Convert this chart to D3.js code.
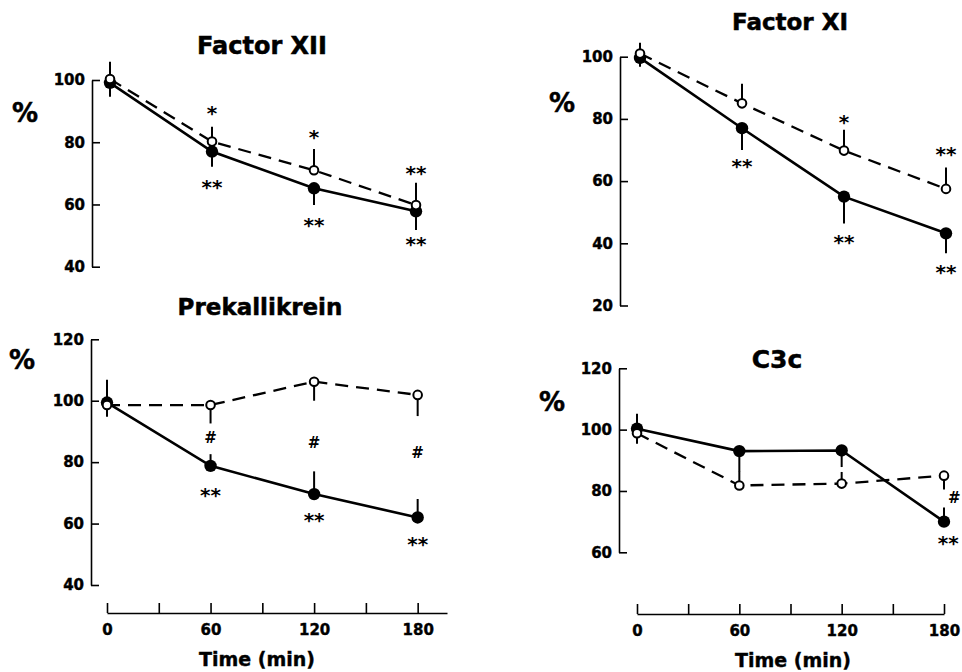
<!DOCTYPE html>
<html><head><meta charset="utf-8">
<script src="https://cdn.jsdelivr.net/npm/d3@7"></script>
<style>
html,body{margin:0;padding:0;background:#fff;}
svg{display:block;}
text{font-family:"DejaVu Sans",sans-serif;font-weight:bold;fill:#000;}
</style></head>
<body>
<svg id="chart" width="962" height="672"></svg>
<script>
// ---------- DATA ----------
const times = [0, 60, 120, 180];
const minorTimes = [0, 30, 60, 90, 120, 150, 180];
const xTickLabels = ["0", "60", "120", "180"];
const titles = ["Factor XII", "Factor XI", "Prekallikrein", "C3c"];
const yLabel = "%";
const xLabel = "Time (min)";

// Factor XII
const f12Filled = [99.1, 77.0, 65.2, 57.8];
const f12FilledSD = [4.5, 4.9, 5.4, 6.0];
const f12FilledDir = [-1, -1, -1, -1];
const f12Open = [100.3, 80.2, 71.0, 59.8];
const f12OpenSD = [5.6, 4.8, 6.8, 7.2];
const f12OpenDir = [1, 1, 1, 1];
const f12Ticks = [40, 60, 80, 100];
const f12Notes = [[60, 91.0, "*"], [60, 67.2, "**"], [120, 83.3, "*"], [120, 55.0, "**"], [180, 71.7, "**"], [180, 48.9, "**"]];

// Factor XI
const f11Filled = [99.6, 77.0, 55.0, 43.2];
const f11FilledSD = [2.8, 7.0, 8.6, 6.4];
const f11FilledDir = [-1, -1, -1, -1];
const f11Open = [101.0, 85.0, 69.8, 57.5];
const f11OpenSD = [3.5, 6.3, 6.7, 6.9];
const f11OpenDir = [1, 1, 1, 1];
const f11Ticks = [20, 40, 60, 80, 100];
const f11Notes = [[60, 66.2, "**"], [120, 80.6, "*"], [120, 42.0, "**"], [180, 70.3, "**"], [180, 32.4, "**"]];

// Prekallikrein
const pkFilled = [99.4, 78.8, 69.6, 62.0];
const pkFilledSD = [7.4, 3.8, 7.4, 6.0];
const pkFilledDir = [1, 1, 1, 1];
const pkOpen = [98.6, 98.6, 106.2, 101.9];
const pkOpenSD = [3.8, 6.0, 6.2, 6.9];
const pkOpenDir = [-1, -1, -1, -1];
const pkTicks = [40, 60, 80, 100, 120];
const pkNotes = [[60, 88.0, "#"], [60, 70.7, "**"], [120, 86.4, "#"], [120, 62.5, "**"], [180, 83.2, "#"], [180, 55.0, "**"]];

// C3c
const c3Filled = [100.3, 93.0, 93.2, 70.0];
const c3FilledSD = [4.9, 6.8, 5.4, 4.6];
const c3FilledDir = [1, -1, -1, 1];
const c3Open = [98.8, 81.8, 82.4, 85.0];
const c3OpenSD = [3.4, 4.5, 3.8, 4.5];
const c3OpenDir = [-1, 1, 1, -1];
const c3Ticks = [60, 80, 100, 120];
const c3Notes = [[186, 78.0, "#"], [182.5, 64.5, "**"]];

// ---------- LAYOUT ----------
const svg = d3.select("#chart");
svg.append("rect").attr("width", 962).attr("height", 672).attr("fill", "#fff");

const panels = [
  {title: titles[0], filled: f12Filled, fSD: f12FilledSD, fDir: f12FilledDir, open: f12Open, oSD: f12OpenSD, oDir: f12OpenDir,
   ticks: f12Ticks, notes: f12Notes, xDom: [0, 180], xRange: [110, 416], yDom: [40, 100], yRange: [266.7, 80], axisX: 92,
   titlePos: [262, 54], titleSize: 24, pct: [25, 113], showX: false},
  {title: titles[1], filled: f11Filled, fSD: f11FilledSD, fDir: f11FilledDir, open: f11Open, oSD: f11OpenSD, oDir: f11OpenDir,
   ticks: f11Ticks, notes: f11Notes, xDom: [0, 180], xRange: [640, 946], yDom: [20, 100], yRange: [305.5, 56.7], axisX: 620,
   titlePos: [790, 30], titleSize: 23, pct: [562, 103], showX: false},
  {title: titles[2], filled: pkFilled, fSD: pkFilledSD, fDir: pkFilledDir, open: pkOpen, oSD: pkOpenSD, oDir: pkOpenDir,
   ticks: pkTicks, notes: pkNotes, xDom: [0, 197], xRange: [107, 447], yDom: [40, 120], yRange: [585, 339.3], axisX: 91,
   titlePos: [260, 315], titleSize: 23, pct: [22, 360], showX: true, xAxisY: 613, xLabelPos: [257, 666]},
  {title: titles[3], filled: c3Filled, fSD: c3FilledSD, fDir: c3FilledDir, open: c3Open, oSD: c3OpenSD, oDir: c3OpenDir,
   ticks: c3Ticks, notes: c3Notes, xDom: [0, 180], xRange: [637, 944], yDom: [60, 120], yRange: [552.3, 368.3], axisX: 619,
   titlePos: [777, 368], titleSize: 25, pct: [552, 402], showX: true, xAxisY: 614, xLabelPos: [793, 667]}
];

panels.forEach(p => {
  const x = d3.scaleLinear().domain(p.xDom).range(p.xRange);
  const y = d3.scaleLinear().domain(p.yDom).range(p.yRange);
  const g = svg.append("g");

  // title
  g.append("text").attr("x", p.titlePos[0]).attr("y", p.titlePos[1])
    .attr("text-anchor", "middle").style("font-size", p.titleSize + "px")
    .attr("stroke", "#000").attr("stroke-width", 0.5).text(p.title);
  // % label
  g.append("text").attr("x", p.pct[0]).attr("y", p.pct[1]).attr("dy", "0.36em")
    .attr("text-anchor", "middle").style("font-size", "26px")
    .attr("stroke", "#000").attr("stroke-width", 0.5).text(yLabel);

  // y axis
  const ya = g.append("g").attr("transform", `translate(${p.axisX},0)`)
    .call(d3.axisLeft(y).tickValues(p.ticks).tickSize(-8).tickSizeOuter(0).tickPadding(7).tickFormat(d3.format("d")));
  ya.selectAll("path,line").attr("stroke", "#000").attr("stroke-width", 1.6);
  ya.selectAll("text").style("font-size", "15px").attr("font-family", null)
    .attr("stroke", "#000").attr("stroke-width", 0.4);

  // x axis
  if (p.showX) {
    const xa = g.append("g").attr("transform", `translate(0,${p.xAxisY})`)
      .call(d3.axisBottom(x).tickValues(minorTimes).tickSize(-10).tickSizeOuter(0).tickPadding(11)
        .tickFormat(d => { const i = times.indexOf(d); return i >= 0 ? xTickLabels[i] : ""; }));
    xa.selectAll("path,line").attr("stroke", "#000").attr("stroke-width", 1.6);
    xa.selectAll("text").style("font-size", "15px").attr("font-family", null)
      .attr("stroke", "#000").attr("stroke-width", 0.4);
    g.append("text").attr("x", p.xLabelPos[0]).attr("y", p.xLabelPos[1])
      .attr("text-anchor", "middle").style("font-size", "19px")
      .attr("stroke", "#000").attr("stroke-width", 0.4).text(xLabel);
  }

  const line = d3.line().x((d, i) => x(times[i])).y(d => y(d));

  // lines
  g.append("path").datum(p.open).attr("d", line).attr("fill", "none")
    .attr("stroke", "#000").attr("stroke-width", 2.3).attr("stroke-dasharray", "13,8");
  g.append("path").datum(p.filled).attr("d", line).attr("fill", "none")
    .attr("stroke", "#000").attr("stroke-width", 2.6);

  // error bars
  const drawErr = (vals, sds, dirs) => {
    g.selectAll(null).data(vals).enter().append("line")
      .attr("x1", (d, i) => x(times[i])).attr("x2", (d, i) => x(times[i]))
      .attr("y1", d => y(d)).attr("y2", (d, i) => y(d + dirs[i] * sds[i]))
      .attr("stroke", "#000").attr("stroke-width", 2);
  };
  drawErr(p.open, p.oSD, p.oDir);
  drawErr(p.filled, p.fSD, p.fDir);

  // markers
  g.selectAll(null).data(p.filled).enter().append("circle")
    .attr("cx", (d, i) => x(times[i])).attr("cy", d => y(d)).attr("r", 6.2).attr("fill", "#000");
  g.selectAll(null).data(p.open).enter().append("circle")
    .attr("cx", (d, i) => x(times[i])).attr("cy", d => y(d)).attr("r", 4.3)
    .attr("fill", "#fff").attr("stroke", "#000").attr("stroke-width", 2);

  // significance notes
  g.selectAll(null).data(p.notes).enter().append("text")
    .attr("x", d => x(d[0])).attr("y", d => y(d[1]))
    .attr("text-anchor", "middle")
    .attr("dy", d => d[2] === "#" ? "0.36em" : "0.58em")
    .style("font-size", d => d[2] === "#" ? "15px" : "20px")
    .text(d => d[2]);
});
</script>
</body></html>
